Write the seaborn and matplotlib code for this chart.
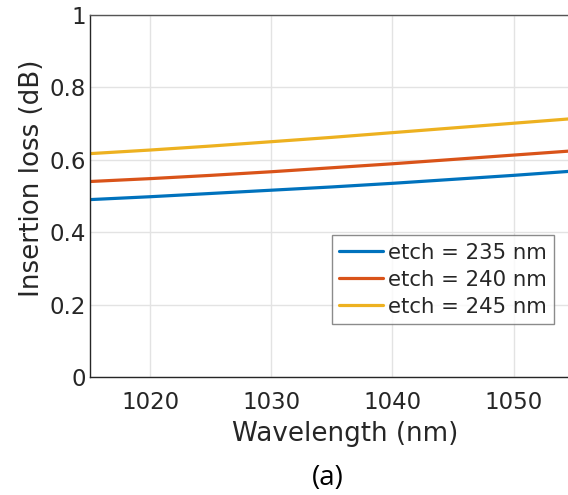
import numpy as np
import pandas as pd
import seaborn as sns
import matplotlib.pyplot as plt

# wavelength (nm) and insertion loss (dB) for each etch depth
wavelength = [1015, 1020, 1025, 1030, 1035, 1040, 1045, 1050, 1055]
loss_235 = [0.490, 0.498, 0.507, 0.516, 0.525, 0.535, 0.546, 0.557, 0.569]
loss_240 = [0.540, 0.548, 0.557, 0.567, 0.578, 0.589, 0.601, 0.613, 0.625]
loss_245 = [0.617, 0.627, 0.638, 0.650, 0.662, 0.675, 0.688, 0.701, 0.714]
labels = ['etch = 235 nm', 'etch = 240 nm', 'etch = 245 nm']
colors = ['#0072BD', '#D95319', '#EDB120']

df = pd.concat([
    pd.DataFrame({'wl': wavelength, 'loss': vals, 'etch': lab})
    for vals, lab in zip([loss_235, loss_240, loss_245], labels)
])

sns.set_theme(style='white')
plt.rcParams['font.family'] = ['DejaVu Sans']

fig = plt.figure(figsize=(5.68, 4.95), dpi=100)
ax = fig.add_axes([0.158, 0.2384, 0.842, 0.7313])

sns.lineplot(data=df, x='wl', y='loss', hue='etch', palette=colors,
             linewidth=2.3, ax=ax)

ax.set_xlim(1015, 1054.5)
ax.set_ylim(0, 1)
ax.set_xticks([1020, 1030, 1040, 1050])
ax.set_yticks([0, 0.2, 0.4, 0.6, 0.8, 1])
ax.set_yticklabels(['0', '0.2', '0.4', '0.6', '0.8', '1'])
ax.grid(True, color='#e3e3e3', linewidth=1)
ax.tick_params(direction='in', length=5, width=1, colors='#262626',
               labelsize=16.5, labelcolor='#262626')
ax.tick_params(axis='x', pad=10)
ax.tick_params(axis='y', pad=2.5)
for side in ['left', 'bottom', 'top']:
    ax.spines[side].set_color('#262626')
    ax.spines[side].set_linewidth(1)
ax.spines['top'].set_color('#555555')
ax.spines['right'].set_visible(False)

ax.set_xlabel('Wavelength (nm)', fontsize=18.8, color='#262626')
ax.set_ylabel('Insertion loss (dB)', fontsize=18.8, color='#262626')
ax.xaxis.set_label_coords(0.5345, -0.122)
ax.yaxis.set_label_coords(-0.094, 0.548)

leg = ax.legend(loc='lower right', bbox_to_anchor=(0.971, 0.146),
                borderaxespad=0, fontsize=15.3, frameon=True, fancybox=False,
                handlelength=2.05, handletextpad=0.25, borderpad=0.35,
                labelspacing=0.33)
leg.get_frame().set_edgecolor('#6e6e6e')
leg.get_frame().set_linewidth(1)

fig.text(0.577, 0.034, '(a)', ha='center', va='center', fontsize=20,
         family=['Open Sans', 'DejaVu Sans'], color='black')

fig.savefig('out.png', dpi=100)
